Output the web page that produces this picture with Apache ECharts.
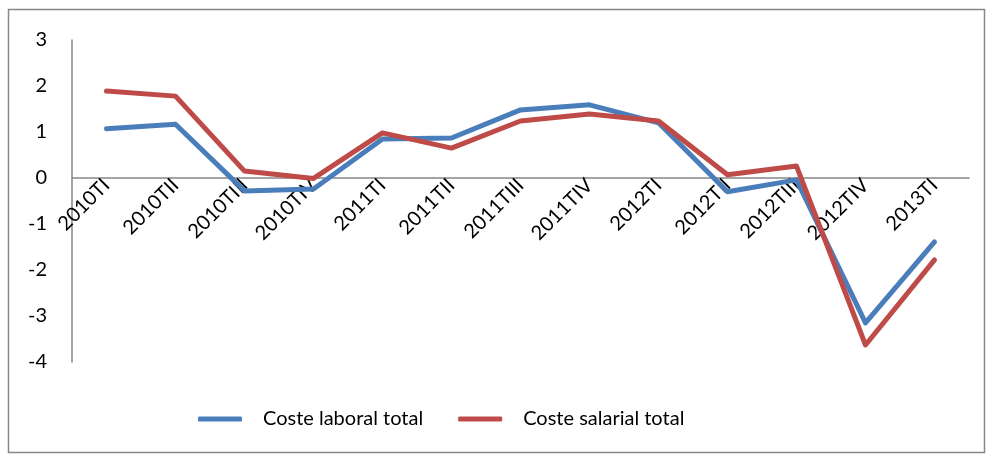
<!DOCTYPE html>
<html><head><meta charset="utf-8">
<script src="https://cdn.jsdelivr.net/npm/echarts@6/dist/echarts.min.js"></script>
<style>html,body{margin:0;padding:0;background:#fff}#c{width:988px;height:455px}</style>
</head><body><div id="c"></div>
<script>
const categories = ['2010TI','2010TII','2010TIII','2010TIV','2011TI','2011TII','2011TIII','2011TIV','2012TI','2012TII','2012TIII','2012TIV','2013TI'];
const costeLaboral = [1.07, 1.17, -0.28, -0.24, 0.85, 0.87, 1.48, 1.59, 1.2, -0.3, -0.04, -3.15, -1.39];
const costeSalarial = [1.89, 1.78, 0.15, -0.01, 0.98, 0.65, 1.24, 1.39, 1.24, 0.07, 0.26, -3.63, -1.78];
const yTicks = {min: -4, max: 3, interval: 1};

const gridTop = 40, gridBottom = 93, H = 455;
const gridHeight = H - gridTop - gridBottom;
// place the category axis (and its labels) at value 0
const zeroOffset = -(0 - yTicks.min) / (yTicks.max - yTicks.min) * gridHeight;

const chart = echarts.init(document.getElementById('c'));
const font = 'Lato, "Open Sans", sans-serif';
chart.setOption({
  animation: false,
  graphic: [{type:'rect', shape:{x:8.5,y:9.5,width:976,height:443}, style:{fill:null, stroke:'#878787', lineWidth:1.5}, silent:true}],
  grid: {left: 72, right: 19, top: gridTop, bottom: gridBottom},
  legend: {
    top: 404, left: 193,
    itemWidth: 44, itemHeight: 5, itemGap: 35,
    icon: 'roundRect',
    textStyle: {fontFamily: font, fontSize: 20, color: '#000', padding: [0,0,0,16]},
    data: ['Coste laboral total','Coste salarial total']
  },
  xAxis: {
    type: 'category', data: categories, boundaryGap: true,
    offset: zeroOffset,
    axisLine: {onZero: false, lineStyle: {color: '#868686', width: 1.5}},
    axisTick: {show: false},
    axisLabel: {rotate: 45, fontFamily: font, fontSize: 20, color: '#000', margin: 4, interval: 0}
  },
  yAxis: {
    type: 'value', min: yTicks.min, max: yTicks.max, interval: yTicks.interval,
    splitLine: {show: false},
    axisLine: {show: true, lineStyle: {color: '#868686', width: 1.5}},
    axisTick: {show: false},
    axisLabel: {fontFamily: font, fontSize: 20, color: '#000', margin: 25}
  },
  series: [
    {name: 'Coste laboral total', type: 'line', data: costeLaboral, symbol: 'none',
     lineStyle: {width: 5, color: '#4A7EBB', cap: 'round', join: 'round'}, itemStyle: {color: '#4A7EBB'}},
    {name: 'Coste salarial total', type: 'line', data: costeSalarial, symbol: 'none',
     lineStyle: {width: 5, color: '#BE4B48', cap: 'round', join: 'round'}, itemStyle: {color: '#BE4B48'}}
  ]
});
</script></body></html>
